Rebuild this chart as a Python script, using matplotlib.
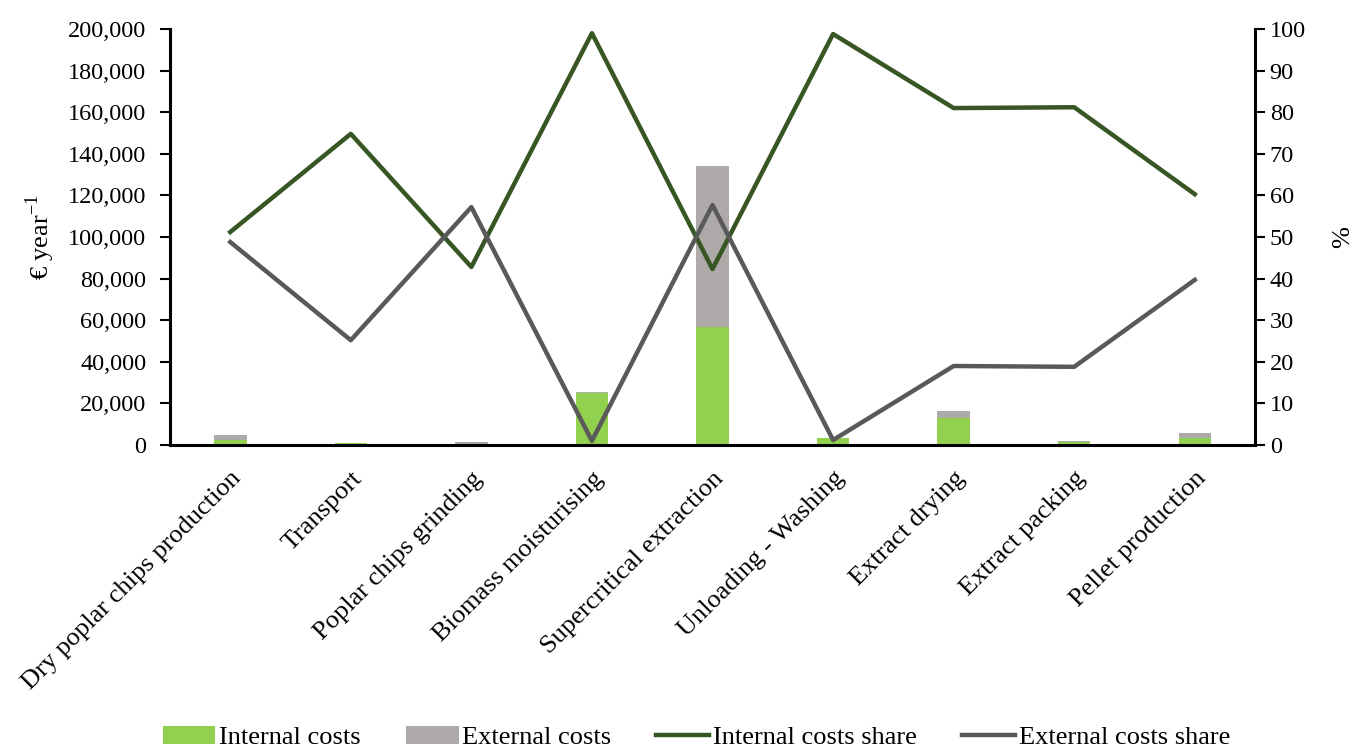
import matplotlib.pyplot as plt
import numpy as np
from matplotlib.ticker import FuncFormatter

plt.rcParams['font.family'] = ['Liberation Serif', 'DejaVu Serif']
plt.rcParams['mathtext.fontset'] = 'custom'
plt.rcParams['mathtext.rm'] = 'Liberation Serif'

steps = ['Dry poplar chips production', 'Transport', 'Poplar chips grinding',
         'Biomass moisturising', 'Supercritical extraction', 'Unloading - Washing',
         'Extract drying', 'Extract packing', 'Pellet production']

# cost per process step, EUR per year
internal_costs = [2450, 850, 600, 25100, 56700, 3150, 13100, 1450, 3450]
external_costs = [2350, 250, 900, 250, 77400, 50, 3100, 350, 2350]

# share of each step's cost, %
internal_share = [51.2, 74.8, 42.8, 99.0, 42.3, 98.8, 81.0, 81.2, 60.3]
external_share = [48.8, 25.2, 57.2, 1.0, 57.7, 1.2, 19.0, 18.8, 39.7]

green = '#92d050'
grey = '#aeaaaa'
dark_green = '#375623'
dark_grey = '#595959'

fig = plt.figure(figsize=(13.52, 7.52), dpi=100)
ax = fig.add_axes([0.1257, 0.4082, 0.8026, 0.5532])
x = np.arange(len(steps))

ax.bar(x, internal_costs, width=0.27, color=green, label='Internal costs')
ax.bar(x, external_costs, width=0.27, bottom=internal_costs, color=grey,
       label='External costs')
ax.set_xlim(-0.5, len(steps) - 0.5)
ax.set_ylim(0, 200000)
ax.set_yticks(np.arange(0, 200001, 20000))
ax.yaxis.set_major_formatter(FuncFormatter(lambda v, p: f'{v:,.0f}'))
ax.set_xticks(x)
ax.set_xticklabels(steps, rotation=45, ha='right', rotation_mode='anchor',
                   fontsize=19)
ax.tick_params(axis='x', length=0, pad=16)
ax.tick_params(axis='y', length=7, width=1.5, labelsize=17.5, pad=10)
ax.set_ylabel('€ year$^{\\mathregular{-1}}$', fontsize=19)
ax.yaxis.set_label_coords(-0.104, 0.5)
for s in ['top', 'right']:
    ax.spines[s].set_visible(False)
for s in ['left', 'bottom']:
    ax.spines[s].set_linewidth(2.2)

ax2 = ax.twinx()
ax2.plot(x, internal_share, color=dark_green, lw=3.2, label='Internal costs share')
ax2.plot(x, external_share, color=dark_grey, lw=3.2, label='External costs share')
ax2.set_ylim(0, 100)
ax2.set_yticks(np.arange(0, 101, 10))
ax2.tick_params(axis='y', length=7, width=1.5, labelsize=17.5)
ax2.set_ylabel('%', fontsize=19)
ax2.yaxis.set_label_coords(1.071, 0.5)
for s in ['top', 'left', 'bottom']:
    ax2.spines[s].set_visible(False)
ax2.spines['right'].set_linewidth(2.2)

h1, l1 = ax.get_legend_handles_labels()
h2, l2 = ax2.get_legend_handles_labels()
fig.legend(h1 + h2, l1 + l2, loc='lower center', bbox_to_anchor=(0.515, -0.028),
           ncol=4, frameon=False, fontsize=19, handlelength=2.0,
           handletextpad=0.15, columnspacing=1.7)

fig.savefig('out.png', dpi=100)
